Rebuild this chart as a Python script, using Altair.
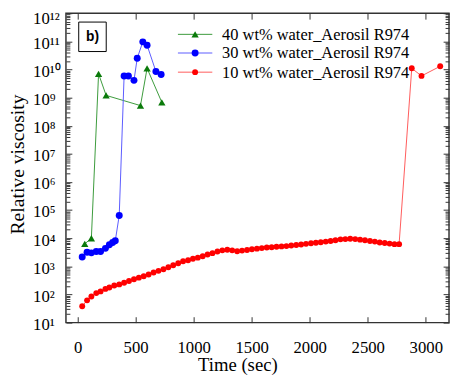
import altair as alt
import pandas as pd

series_names = ["40 wt% water_Aerosil R974", "30 wt% water_Aerosil R974", "10 wt% water_Aerosil R974"]

green_t = [62, 119, 181, 246, 542, 599, 726]
green_v = [6300, 10000, 7.0e9, 1.2e9, 5.2e8, 1.1e10, 6.8e8]

blue_t = [40, 82, 119, 161, 198, 240, 274, 302, 325, 359, 401, 438, 486, 514, 562, 599, 675, 720]
blue_v = [2140, 3160, 3020, 3390, 3390, 4370, 5890, 7080, 8130, 64600,
          5.9e9, 5.9e9, 4.1e9, 2.5e10, 9.6e10, 7.3e10, 8.5e9, 6.6e9]

red_t = [40, 82, 119, 161, 198, 240, 274, 316, 359, 401,
         443, 486, 528, 570, 612, 655, 697, 740, 782, 824,
         867, 909, 952, 994, 1036, 1078, 1120, 1162, 1205, 1247,
         1290, 1332, 1375, 1417, 1460, 1502, 1545, 1587, 1630, 1672,
         1714, 1757, 1799, 1841, 1884, 1926, 1968, 2011, 2053, 2095,
         2138, 2180, 2222, 2265, 2307, 2349, 2392, 2434, 2476, 2519,
         2561, 2603, 2646, 2688, 2730, 2770, 2879, 2963, 3124]
red_v = [38, 62, 85, 112, 129, 158, 178, 209, 229, 263,
         302, 347, 398, 447, 513, 603, 692, 794, 933, 1096,
         1288, 1514, 1660, 1862, 2042, 2291, 2630, 2951, 3388, 3715,
         3890, 3715, 3467, 3631, 3802, 4074, 4266, 4467, 4677, 4786,
         5012, 5129, 5248, 5495, 5754, 6026, 6310, 6607, 6918, 7244,
         7586, 7943, 8511, 9120, 9333, 9550, 9333, 8913, 8511, 7943,
         7586, 7079, 6761, 6457, 6166, 6166, 1.1e10, 5.9e9, 1.3e10]

x_ticks = [0, 500, 1000, 1500, 2000, 2500, 3000]
y_major = [1e1, 1e2, 1e3, 1e4, 1e5, 1e6, 1e7, 1e8, 1e9, 1e10, 1e11, 1e12]
y_labels = ["10¹", "10²", "10³", "10⁴", "10⁵", "10⁶", "10⁷", "10⁸", "10⁹", "10¹⁰", "10¹¹", "10¹²"]
y_minor = [m * 10.0 ** e for e in range(1, 12) for m in range(2, 10)]

green_df = pd.DataFrame({"t": green_t, "v": green_v})
blue_df = pd.DataFrame({"t": blue_t, "v": blue_v})
red_df = pd.DataFrame({"t": red_t, "v": red_v})

SERIF = "Liberation Serif"
FRAME = "#333333"

xs = alt.Scale(domain=[-100, 3200], nice=False, zero=False)
ys = alt.Scale(type="log", domain=[10, 1e12], nice=False)

label_expr = "[" + ",".join("'%s'" % s for s in y_labels) + "][round(log(datum.value)/LN10)-1]"

x_bottom = alt.Axis(orient="bottom", values=x_ticks, offset=-6, tickSize=6, tickColor=FRAME,
                    domain=False, grid=False, labelFont=SERIF, labelFontSize=17, labelColor="black",
                    labelPadding=17, format="d", labelFlush=False,
                    title="Time (sec)", titleFont=SERIF, titleFontSize=19, titleFontWeight="normal",
                    titleColor="black", titleX=174.5, titleY=55, titleBaseline="alphabetic",
                    titleAlign="center")
x_top = alt.Axis(orient="top", values=x_ticks, offset=-6, tickSize=6, tickColor=FRAME,
                 domain=False, grid=False, labels=False, title=None)
y_left = alt.Axis(orient="left", values=y_major, offset=-6, tickSize=6, tickColor=FRAME,
                  domain=False, grid=False, labelAlign="left", labelPadding=34, labelExpr=label_expr,
                  labelFont=SERIF, labelFontSize=17, labelColor="black", labelBaseline="middle",
                  labelOffset={"condition": {"test": "datum.value > 5e11", "value": 5}, "value": 2},
                  labelFlush=False,
                  title="Relative viscosity", titleFont=SERIF, titleFontSize=20, titleFontWeight="normal",
                  titleColor="black", titleAngle=270, titleX=-55, titleY=153.5, titleAlign="center",
                  titleBaseline="middle")
y_left_minor = alt.Axis(orient="left", values=y_minor, offset=-4, tickSize=4, tickColor=FRAME,
                        domain=False, grid=False, labels=False, title=None)
y_right = alt.Axis(orient="right", values=y_major, offset=-6, tickSize=6, tickColor=FRAME,
                   domain=False, grid=False, labels=False, title=None)
y_right_minor = alt.Axis(orient="right", values=y_minor, offset=-4, tickSize=4, tickColor=FRAME,
                         domain=False, grid=False, labels=False, title=None)


def helper(xaxis, yaxis):
    return alt.Chart(red_df).mark_point(opacity=0).encode(
        x=alt.X("t:Q", scale=xs, axis=xaxis),
        y=alt.Y("v:Q", scale=ys, axis=yaxis),
    )


def series(df, line_color, mark_color, shape, size):
    enc = dict(x=alt.X("t:Q", scale=xs, axis=None), y=alt.Y("v:Q", scale=ys, axis=None))
    line = alt.Chart(df).mark_line(color=line_color, strokeWidth=1).encode(**enc)
    pts = alt.Chart(df).mark_point(filled=True, color=mark_color, shape=shape, size=size, opacity=1).encode(**enc)
    return [line, pts]


styles = [
    ("#3a9a3a", "#0a7a0a", "triangle-up", 55),
    ("#5a5aff", "#0000ff", "circle", 50),
    ("#ff5a5a", "#ff0000", "circle", 36),
]

layers = [
    helper(x_bottom, y_left),
    helper(x_top, y_left_minor),
    helper(None, y_right),
    helper(None, y_right_minor),
]
layers += series(green_df, *styles[0])
layers += series(blue_df, *styles[1])
layers += series(red_df, *styles[2])

# legend (inside plot, top right)
row_y = [21.5, 40.5, 60]
for name, (lc, mc, shp, sz), yy in zip(series_names, styles, row_y):
    ldf = pd.DataFrame({"series": [name]})
    layers.append(alt.Chart(ldf).mark_rule(color=lc, strokeWidth=1).encode(
        x=alt.value(114), x2=alt.value(149), y=alt.value(yy)))
    layers.append(alt.Chart(ldf).mark_point(filled=True, color=mc, shape=shp, size=sz, opacity=1).encode(
        x=alt.value(131.5), y=alt.value(yy)))
    layers.append(alt.Chart(ldf).mark_text(align="left", baseline="middle", font=SERIF, fontSize=16.7,
                                           color="black").encode(
        x=alt.value(159), y=alt.value(yy + 0.5), text="series:N"))

# "b)" label box
bdf = pd.DataFrame({"lab": ["b)"]})
layers.append(alt.Chart(bdf).mark_rect(fill="white", stroke="black", strokeWidth=1).encode(
    x=alt.value(13), x2=alt.value(41), y=alt.value(9), y2=alt.value(39)))
layers.append(alt.Chart(bdf).mark_text(align="center", baseline="middle", font="Liberation Sans",
                                       fontSize=14, fontWeight="bold", color="black").encode(
    x=alt.value(27), y=alt.value(24), text="lab:N"))

chart = alt.layer(*layers).resolve_axis(x="independent", y="independent").properties(
    width=390, height=315,
    autosize=alt.AutoSizeParams(type="none"),
    padding={"left": 59, "top": 2, "right": 1, "bottom": 50},
    background="white",
).configure(font=SERIF).configure_axis(
    labelFont=SERIF, titleFont=SERIF
).configure_view(stroke=FRAME, strokeWidth=1.5)

chart.save("out.html", embed_options={"renderer": "svg", "actions": False})
